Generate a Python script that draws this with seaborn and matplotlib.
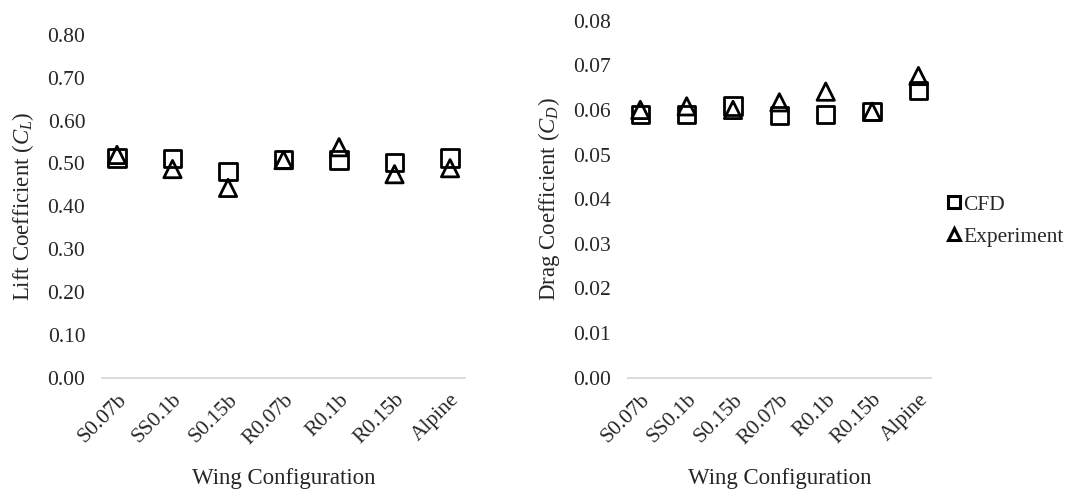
import matplotlib
matplotlib.use("Agg")
import matplotlib.pyplot as plt
from matplotlib.lines import Line2D
import seaborn as sns
import pandas as pd

# Wing configurations and measured / simulated coefficients
configs = ["S0.07b", "SS0.1b", "S0.15b", "R0.07b", "R0.1b", "R0.15b", "Alpine"]
lift_cfd = [0.513, 0.511, 0.481, 0.510, 0.508, 0.502, 0.513]
lift_exp = [0.520, 0.487, 0.443, 0.508, 0.538, 0.475, 0.489]
drag_cfd = [0.0589, 0.0589, 0.0609, 0.0588, 0.0589, 0.0597, 0.0644]
drag_exp = [0.0600, 0.0608, 0.0600, 0.0617, 0.0641, 0.0596, 0.0676]
lift_ticks = [0.0, 0.1, 0.2, 0.3, 0.4, 0.5, 0.6, 0.7, 0.8]
drag_ticks = [0.00, 0.01, 0.02, 0.03, 0.04, 0.05, 0.06, 0.07, 0.08]

sns.set_theme(style="white")
plt.rcParams["font.family"] = ["Liberation Serif", "DejaVu Serif"]
plt.rcParams["mathtext.fontset"] = "custom"
plt.rcParams["mathtext.rm"] = "Liberation Serif"
plt.rcParams["mathtext.it"] = "Liberation Serif:italic"

lift = pd.DataFrame({
    "config": configs * 2,
    "value": lift_cfd + lift_exp,
    "source": ["CFD"] * 7 + ["Experiment"] * 7,
})
drag = pd.DataFrame({
    "config": configs * 2,
    "value": drag_cfd + drag_exp,
    "source": ["CFD"] * 7 + ["Experiment"] * 7,
})

markers = {"CFD": "s", "Experiment": "^"}

fig = plt.figure(figsize=(10.75, 4.96), dpi=100)
ax1 = fig.add_axes([0.0949, 0.2385, 0.3377, 0.691])
ax2 = fig.add_axes([0.584, 0.2385, 0.282, 0.7198])


def draw(ax, df, ticks, fmt, ylabel):
    for src in ["CFD", "Experiment"]:
        sub = df[df["source"] == src]
        sns.scatterplot(data=sub, x="config", y="value", marker=markers[src],
                        s=155, facecolor="none", edgecolor="black",
                        linewidth=2.0, ax=ax, legend=False, zorder=3)
    ax.set_xlim(-0.27, len(configs) - 1 + 0.27)
    ax.set_ylim(ticks[0], ticks[-1])
    ax.set_yticks(ticks)
    ax.set_yticklabels([fmt.format(t) for t in ticks], fontsize=15.5)
    ax.set_xticks(range(len(configs)))
    ax.set_xticklabels(configs, rotation=45, ha="right", rotation_mode="anchor",
                       fontsize=15.5)
    ax.tick_params(axis="both", length=0, pad=12)
    ax.tick_params(axis="x", pad=9)
    for side in ["top", "right", "left"]:
        ax.spines[side].set_visible(False)
    ax.spines["bottom"].set_color("#d9d9d9")
    ax.spines["bottom"].set_linewidth(1.3)
    ax.set_xlabel("Wing Configuration", fontsize=16.5, labelpad=14)
    ax.set_ylabel(ylabel, fontsize=16.5, labelpad=8)
    ax.grid(False)


draw(ax1, lift, lift_ticks, "{:.2f}", r"Lift Coefficient ($C_L$)")
draw(ax2, drag, drag_ticks, "{:.2f}", r"Drag Coefficient ($C_D$)")

handles = [
    Line2D([], [], marker="s", linestyle="none", markerfacecolor="none",
           markeredgecolor="black", markeredgewidth=2.2, markersize=8.5, label="CFD"),
    Line2D([], [], marker="^", linestyle="none", markerfacecolor="none",
           markeredgecolor="black", markeredgewidth=2.2, markersize=8.5, label="Experiment"),
]
fig.legend(handles=handles, loc="center left", bbox_to_anchor=(0.862, 0.555),
           frameon=False, fontsize=15.5, handlelength=0.7, handletextpad=0.1,
           labelspacing=0.55)

fig.savefig("out.png", dpi=100, facecolor="white")
